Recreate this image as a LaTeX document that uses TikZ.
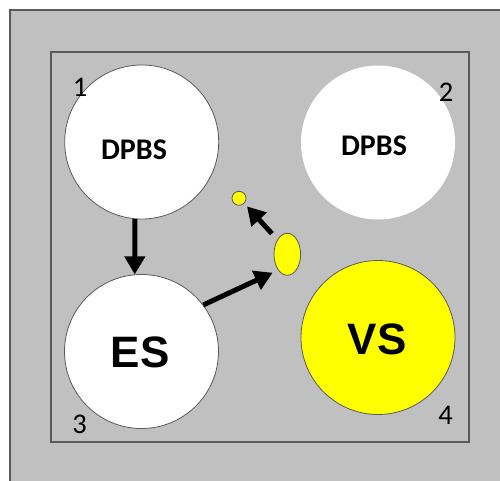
\documentclass[tikz,border=0pt]{standalone}
\usepackage{fontspec}
\setmainfont{Carlito}
\newfontfamily\arialfont{Liberation Sans}
\usetikzlibrary{arrows.meta,shapes.geometric}
\definecolor{bggray}{HTML}{C0C0C0}
\definecolor{edgegray}{HTML}{5A5A5A}
\definecolor{ylw}{HTML}{FFFF00}
\tikzset{
  bigcirc/.style={circle,minimum size=154pt,inner sep=0pt},
  whitecirc/.style={bigcirc,fill=white,draw=edgegray,line width=0.8pt},
  dpbs/.style={font=\fontsize{30}{30}\selectfont\bfseries,inner sep=0pt},
  bigtxt/.style={font=\arialfont\fontsize{44}{44}\selectfont\bfseries,inner sep=0pt},
  num/.style={font=\fontsize{28.5}{28.5}\selectfont,inner sep=0pt},
  fatarrow/.style={line width=5pt,-{Triangle[length=18pt,width=20pt]}},
}
\begin{document}
\begin{tikzpicture}[x=1pt,y=-1pt]
\useasboundingbox (0,0) rectangle (500,481);
\fill[white] (0,0) rectangle (500,481);
\begin{scope}
\clip (0,0) rectangle (500,481);
\draw[fill=bggray,draw=edgegray,line width=1.6pt] (10,10) rectangle (504,486);
\end{scope}
\draw[draw=edgegray,line width=1.8pt] (51,52) rectangle (469,442);
% circles
\node[whitecirc] (c1) at (141.7,142) {};
\node[bigcirc,fill=white] (c2) at (378,142.5) {};
\node[whitecirc] (c3) at (141.5,351.5) {};
\node[bigcirc,fill=ylw,draw=edgegray,line width=0.8pt] (c4) at (378,337.5) {};
% small shapes
\node[ellipse,fill=ylw,draw=edgegray,line width=0.8pt,minimum width=26.6pt,minimum height=42pt,inner sep=0pt] (e) at (287.3,254.3) {};
\node[circle,fill=ylw,draw=edgegray,line width=0.8pt,minimum size=14pt,inner sep=0pt] (s) at (239,198.3) {};
% texts
\node[dpbs] (t1) at (134,150) {DPBS};
\node[dpbs] (t2) at (374,146) {DPBS};
\node[bigtxt] (t3) at (140,352.5) {ES};
\node[bigtxt] (t4) at (377,339) {VS};
\node[num] (n1) at (80,87.5) {1};
\node[num] (n2) at (446,92.5) {2};
\node[num] (n3) at (79.5,424.7) {3};
\node[num] (n4) at (445.5,415.8) {4};
% arrows
\draw[fatarrow] (c1.265) -- (c3.95);
\draw[fatarrow,shorten >=6pt] (c3.37) -- (e.240);
\draw[fatarrow,shorten <=8pt,shorten >=4pt] (e.124) -- (s.316);
\end{tikzpicture}
\end{document}
